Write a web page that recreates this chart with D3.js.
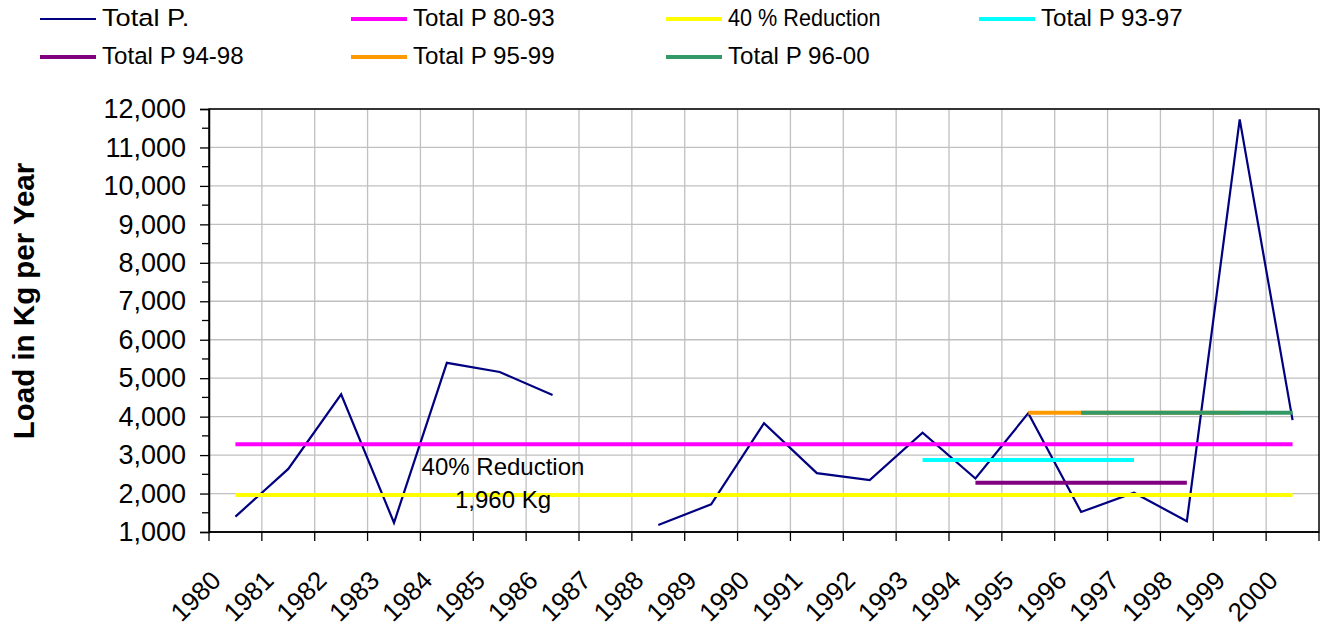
<!DOCTYPE html>
<html>
<head>
<meta charset="utf-8">
<script src="https://cdn.jsdelivr.net/npm/d3@7"></script>
<style>
  body { margin: 0; background: #fff; }
  svg { display: block; font-family: Arial, "Liberation Sans", sans-serif; }
</style>
</head>
<body>
<svg id="chart"></svg>
<script>
// categories and values
const years = ['1980', '1981', '1982', '1983', '1984', '1985', '1986', '1987', '1988', '1989', '1990',
  '1991', '1992', '1993', '1994', '1995', '1996', '1997', '1998', '1999', '2000'];
const totalP = [1400, 2640, 4580, 1240, 5400, 5160, 4560, null, 1180, 1720, 3830,
  2530, 2350, 3580, 2390, 4090, 1520, 2020, 1280, 11730, 3910];

// flat reference lines (averages and target)
const refNames = ['Total P 80-93', '40 % Reduction', 'Total P 93-97', 'Total P 94-98', 'Total P 95-99', 'Total P 96-00'];
const refValues = [3280, 1960, 2870, 2280, 4100, 4100];
const refFrom = ['1980', '1980', '1993', '1994', '1995', '1996'];
const refTo = ['2000', '2000', '1997', '1998', '1999', '2000'];

const yTicks = [1000, 2000, 3000, 4000, 5000, 6000, 7000, 8000, 9000, 10000, 11000, 12000];
const annotation = ['40% Reduction', '1,960 Kg'];

const COLORS = ['#ff00ff', '#ffff00', '#00ffff', '#800080', '#ff9900', '#339966'];
const WIDTH = 1323;
const HEIGHT = 629;
const PLOT = {left: 209, right: 1319, top: 109, bottom: 532};

const svg = d3.select('#chart').attr('width', WIDTH).attr('height', HEIGHT);

const x = d3.scaleBand().domain(years).range([PLOT.left, PLOT.right]).padding(0);
const y = d3.scaleLinear().domain([1000, 12000]).range([PLOT.bottom, PLOT.top]);
const cx = d => x(d) + x.bandwidth() / 2;

// gridlines
const grid = svg.append('g').attr('stroke', '#c0c0c0').attr('stroke-width', 1.3);
grid.selectAll('.hgrid')
  .data(yTicks)
  .enter()
  .append('line')
  .attr('x1', PLOT.left).attr('x2', PLOT.right)
  .attr('y1', d => y(d)).attr('y2', d => y(d));
grid.selectAll('.vgrid')
  .data(years.slice(1))
  .enter()
  .append('line')
  .attr('x1', d => x(d)).attr('x2', d => x(d))
  .attr('y1', PLOT.top).attr('y2', PLOT.bottom);

// plot border
svg.append('rect')
  .attr('x', PLOT.left).attr('y', PLOT.top)
  .attr('width', PLOT.right - PLOT.left).attr('height', PLOT.bottom - PLOT.top)
  .attr('fill', 'none').attr('stroke', '#000').attr('stroke-width', 1.5);

// y axis
const yAxis = svg.append('g')
  .attr('transform', `translate(${PLOT.left},0)`)
  .call(d3.axisLeft(y).tickValues(yTicks).tickSize(9).tickPadding(14).tickFormat(d3.format(',')));
yAxis.select('.domain').attr('stroke-width', 1.5);
yAxis.selectAll('.tick line').attr('stroke-width', 1.3);
yAxis.selectAll('text').attr('font-size', 27).attr('font-family', 'Arial, "Liberation Sans", sans-serif').attr('fill', '#000');
// minor ticks at half steps
yAxis.selectAll('.minor')
  .data(yTicks.slice(1))
  .enter()
  .append('line')
  .attr('x1', -7).attr('x2', 0)
  .attr('y1', d => y(d - 500)).attr('y2', d => y(d - 500))
  .attr('stroke', '#000').attr('stroke-width', 1.3);

// x axis: ticks on category boundaries, labels on centres
const xAxis = svg.append('g').attr('transform', `translate(0,${PLOT.bottom})`);
xAxis.append('line')
  .attr('x1', PLOT.left).attr('x2', PLOT.right)
  .attr('stroke', '#000').attr('stroke-width', 1.5);
xAxis.selectAll('.xt')
  .data(years.concat(['end']))
  .enter()
  .append('line')
  .attr('x1', (d, i) => PLOT.left + i * x.bandwidth())
  .attr('x2', (d, i) => PLOT.left + i * x.bandwidth())
  .attr('y1', 0).attr('y2', 9)
  .attr('stroke', '#000').attr('stroke-width', 1.3);
xAxis.selectAll('.xl')
  .data(years)
  .enter()
  .append('text')
  .text(d => d)
  .attr('text-anchor', 'end')
  .attr('font-size', 26)
  .attr('transform', d => `translate(${cx(d) - 13},${50}) rotate(-45)`);

// Total P. line (gap where no data)
const line = d3.line()
  .defined(d => d.v != null)
  .x(d => cx(d.year))
  .y(d => y(d.v));
svg.append('path')
  .datum(years.map((yr, i) => ({year: yr, v: totalP[i]})))
  .attr('d', line)
  .attr('fill', 'none')
  .attr('stroke', '#000080')
  .attr('stroke-width', 2.2)
  .attr('stroke-linejoin', 'miter');

// reference lines drawn over the data
svg.selectAll('.ref')
  .data(refNames)
  .enter()
  .append('line')
  .classed('ref', true)
  .attr('x1', (d, i) => cx(refFrom[i]))
  .attr('x2', (d, i) => cx(refTo[i]))
  .attr('y1', (d, i) => y(refValues[i]))
  .attr('y2', (d, i) => y(refValues[i]))
  .attr('stroke', (d, i) => COLORS[i])
  .attr('stroke-width', 4);

// annotation
svg.selectAll('.note')
  .data(annotation)
  .enter()
  .append('text')
  .text(d => d)
  .attr('x', 503)
  .attr('y', (d, i) => 475 + i * 33)
  .attr('text-anchor', 'middle')
  .attr('font-size', 24);

// axis title
svg.append('text')
  .text('Load in Kg per Year')
  .attr('transform', 'translate(34,301) rotate(-90)')
  .attr('text-anchor', 'middle')
  .attr('font-size', 29.5)
  .attr('font-weight', 'bold');

// legend
const legendNames = ['Total P.'].concat(refNames);
const legendColors = ['#000080'].concat(COLORS);
const legendCols = [40, 351, 666, 979];
const legendRows = [19, 57];
const legend = svg.selectAll('.legend')
  .data(legendNames)
  .enter()
  .append('g')
  .attr('transform', (d, i) => `translate(${legendCols[i % 4]},${legendRows[Math.floor(i / 4)]})`);
legend.append('line')
  .attr('x1', 0).attr('x2', 56)
  .attr('stroke', (d, i) => legendColors[i])
  .attr('stroke-width', (d, i) => i === 0 ? 2.2 : 4);
legend.append('text')
  .text(d => d)
  .attr('x', 62)
  .attr('y', 7)
  .attr('font-size', 24.5)
  .attr('textLength', d => d.length * 10.9)
  .attr('lengthAdjust', 'spacingAndGlyphs');
</script>
</body>
</html>
